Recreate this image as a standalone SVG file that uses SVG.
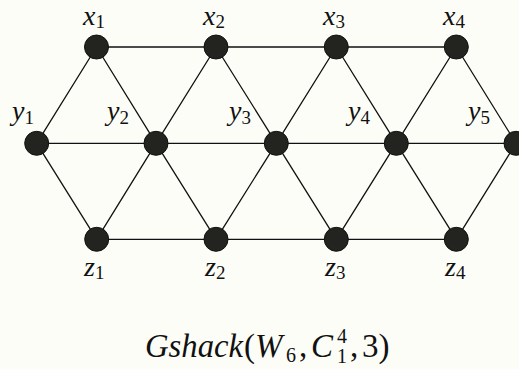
<svg xmlns="http://www.w3.org/2000/svg" width="519" height="369" viewBox="0 0 519 369">
<style>
.e{stroke:#111;stroke-width:1.3;fill:none}
.n{fill:#232320;stroke:#111;stroke-width:1}
.t{font-family:"Liberation Serif",serif;font-style:italic;font-size:28px;fill:#111}
.s{font-family:"Liberation Serif",serif;font-style:normal;font-size:19px;fill:#111}
.c{font-family:"Liberation Serif",serif;font-style:italic;font-size:33px;fill:#111}
.cs{font-family:"Liberation Serif",serif;font-style:normal;font-size:20px;fill:#111}
.r{font-family:"Liberation Serif",serif;font-style:normal;font-size:33px;fill:#111}
</style>
<rect width="519" height="369" fill="#fdfdf8"/>
<g id="edges" class="e">
<path d="M96.5 47H456.3M36.7 143.3H516M96.7 239.3H456.3"/>
<path d="M96.5 47L36.7 143.3M96.5 47L156 143.3M216 47L156 143.3M216 47L276.3 143.3M336.3 47L276.3 143.3M336.3 47L396.3 143.3M456.3 47L396.3 143.3M456.3 47L516 143.3"/>
<path d="M36.7 143.3L96.7 239.3M156 143.3L96.7 239.3M156 143.3L216 239.3M276.3 143.3L216 239.3M276.3 143.3L336.3 239.3M396.3 143.3L336.3 239.3M396.3 143.3L456.3 239.3M516 143.3L456.3 239.3"/>
</g>
<g id="x1"><circle class="n" cx="96.5" cy="47" r="12"/><text class="t" x="83" y="25">x<tspan class="s" dy="3">1</tspan></text></g>
<g id="x2"><circle class="n" cx="216" cy="47" r="12"/><text class="t" x="203" y="25">x<tspan class="s" dy="3">2</tspan></text></g>
<g id="x3"><circle class="n" cx="336.3" cy="47" r="12"/><text class="t" x="323" y="25">x<tspan class="s" dy="3">3</tspan></text></g>
<g id="x4"><circle class="n" cx="456.3" cy="47" r="12"/><text class="t" x="443" y="25">x<tspan class="s" dy="3">4</tspan></text></g>
<g id="y1"><circle class="n" cx="36.7" cy="143.3" r="12"/><text class="t" x="12" y="120">y<tspan class="s" dy="4">1</tspan></text></g>
<g id="y2"><circle class="n" cx="156" cy="143.3" r="12"/><text class="t" x="107" y="120">y<tspan class="s" dy="4">2</tspan></text></g>
<g id="y3"><circle class="n" cx="276.3" cy="143.3" r="12"/><text class="t" x="229" y="120">y<tspan class="s" dy="4">3</tspan></text></g>
<g id="y4"><circle class="n" cx="396.3" cy="143.3" r="12"/><text class="t" x="348" y="120">y<tspan class="s" dy="4">4</tspan></text></g>
<g id="y5"><circle class="n" cx="516" cy="143.3" r="12"/><text class="t" x="468" y="120">y<tspan class="s" dy="4">5</tspan></text></g>
<g id="z1"><circle class="n" cx="96.7" cy="239.3" r="12"/><text class="t" x="84" y="276">z<tspan class="s" dy="3">1</tspan></text></g>
<g id="z2"><circle class="n" cx="216" cy="239.3" r="12"/><text class="t" x="205" y="276">z<tspan class="s" dy="3">2</tspan></text></g>
<g id="z3"><circle class="n" cx="336.3" cy="239.3" r="12"/><text class="t" x="325" y="276">z<tspan class="s" dy="3">3</tspan></text></g>
<g id="z4"><circle class="n" cx="456.3" cy="239.3" r="12"/><text class="t" x="445" y="276">z<tspan class="s" dy="3">4</tspan></text></g>
<g id="caption">
<text class="c" x="145" y="357" textLength="98" lengthAdjust="spacingAndGlyphs">Gshack</text>
<text class="r" x="244" y="357">(</text>
<text class="c" x="255" y="357">W</text>
<text class="cs" x="286" y="362">6</text>
<text class="r" x="299" y="357">,</text>
<text class="c" x="311" y="357">C</text>
<text class="cs" x="337" y="343">4</text>
<text class="cs" x="337" y="363">1</text>
<text class="r" x="350" y="357">,</text>
<text class="r" x="362" y="357">3)</text>
</g>
</svg>
